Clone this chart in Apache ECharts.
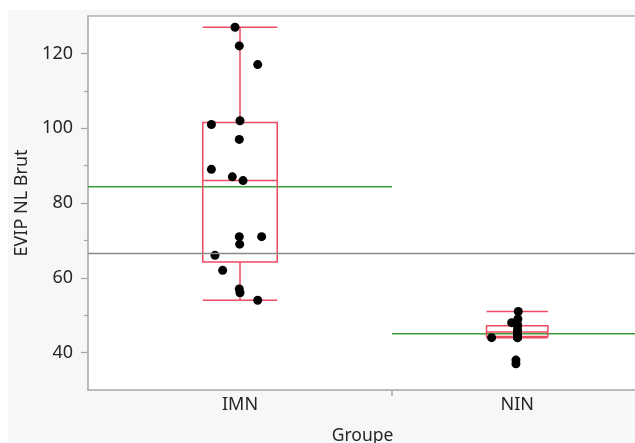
<!DOCTYPE html>
<html><head><meta charset="utf-8">
<script src="https://cdn.jsdelivr.net/npm/echarts@6/dist/echarts.min.js"></script>
<style>html,body{margin:0;padding:0;background:#fff}#c{width:635px;height:443px}</style>
</head><body><div id="c"></div>
<script>
// ---- data ----
const groups = ['IMN', 'NIN'];
const imnValues = [127, 122, 117, 102, 101, 97, 89, 87, 86, 71, 71, 69, 66, 62, 57, 56, 54];
const imnJitter = [-0.28, -0.04, 0.99, 0, -1.6, -0.04, -1.6, -0.43, 0.17, -0.04, 1.21, -0.02, -1.4, -0.97, -0.04, 0, 0.99];
const ninValues = [51, 49, 48, 47.5, 47, 46, 45.5, 45, 44.5, 44, 44, 44, 38, 37];
const ninJitter = [0.06, 0.04, -0.31, 0.02, 0.02, 0.02, 0.02, 0.02, 0.02, 0.02, 0.02, -1.43, -0.07, -0.07];
// box stats: [min whisker, Q1, median, Q3, max whisker]
const imnBox = [54, 64.25, 86, 101.5, 127];
const ninBox = [44, 44.3, 45.5, 47.2, 51];
const yTicks = [40, 60, 80, 100, 120];
const yMinorTicks = [50, 70, 90, 110];

// ---- derived ----
const valuesByGroup = [imnValues, ninValues];
const jitterByGroup = [imnJitter, ninJitter];
const boxByGroup = [imnBox, ninBox];
const counts = valuesByGroup.map(v => v.length);
const starts = [], ends = [], centers = [];
let acc = 0;
counts.forEach(n => { starts.push(acc); centers.push(acc + n / 2); acc += n; ends.push(acc); });
const mean = a => a.reduce((s, v) => s + v, 0) / a.length;
const allValues = [].concat(...valuesByGroup);
const grandMean = mean(allValues);

const RED = '#ee4b62', GREEN = '#3a9f3a', GRAY = '#8a8a8a', AXIS = '#a6a6a6', TXT = '#262626';
const FONT = 'Noto Sans';
const BOX_W_PER_OBS = 0.1225;

const scatterData = [];
valuesByGroup.forEach((vals, g) => vals.forEach((v, i) => scatterData.push([centers[g] + jitterByGroup[g][i], v])));
const boxData = boxByGroup.map((b, g) => [centers[g], counts[g] * BOX_W_PER_OBS, ...b]);
const meanData = valuesByGroup.map((vals, g) => [starts[g], ends[g], mean(vals)]);

const xMax = 30.7;

const chart = echarts.init(document.getElementById('c'), null, {renderer: 'canvas'});
chart.setOption({
  animation: false,
  backgroundColor: '#fff',
  textStyle: {fontFamily: FONT},
  graphic: [{type: 'rect', left: 8, top: 10, z: -100, shape: {width: 640, height: 440}, style: {fill: '#f7f7f7'}}],
  grid: {left: 88, top: 16, right: -2, bottom: 53, show: true, backgroundColor: '#fff', borderWidth: 0, containLabel: false, outerBoundsMode: 'none'},
  xAxis: [{
    type: 'value', min: 0, max: xMax,
    splitLine: {show: false},
    axisLine: {show: true, onZero: false, lineStyle: {color: AXIS, width: 1.5}},
    axisTick: {show: true, customValues: [ends[0]], length: 6, lineStyle: {color: AXIS, width: 1.5}},
    axisLabel: {customValues: centers, formatter: v => groups[centers.indexOf(v)] || '', fontSize: 18, color: TXT, margin: 6, fontFamily: FONT},
    name: 'Groupe', nameLocation: 'middle', nameGap: 37, nameTextStyle: {fontSize: 17.5, color: TXT, fontFamily: FONT}
  }, {
    type: 'value', min: 0, max: xMax, position: 'top',
    splitLine: {show: false},
    axisLine: {show: true, onZero: false, lineStyle: {color: '#b4b4b4', width: 1.5}},
    axisTick: {show: false}, axisLabel: {show: false}
  }],
  yAxis: [{
    type: 'value', min: 30, max: 130,
    splitLine: {show: false},
    axisLine: {show: true, lineStyle: {color: AXIS, width: 1.5}},
    axisTick: {show: true, customValues: yTicks, length: 7, lineStyle: {color: AXIS, width: 1.2}},
    axisLabel: {customValues: yTicks, fontSize: 18, color: TXT, margin: 15, fontFamily: FONT},
    name: 'EVIP NL Brut', nameLocation: 'middle', nameGap: 55, nameRotate: 90,
    nameTextStyle: {fontSize: 18, color: TXT, fontFamily: FONT}
  }, {
    type: 'value', min: 30, max: 130, position: 'left', offset: 0,
    splitLine: {show: false},
    axisLine: {show: false},
    axisTick: {show: true, customValues: yMinorTicks, length: 4, lineStyle: {color: AXIS, width: 1.2}},
    axisLabel: {show: false}
  }],
  series: [{
    type: 'custom', name: 'means', z: 2,
    data: meanData,
    encode: {x: [0, 1], y: 2},
    renderItem: (p, api) => {
      const a = api.coord([api.value(0), api.value(2)]);
      const b = api.coord([api.value(1), api.value(2)]);
      return {type: 'line', shape: {x1: a[0], y1: a[1], x2: b[0], y2: b[1]}, style: {stroke: GREEN, lineWidth: 1.5}};
    }
  }, {
    type: 'custom', name: 'boxes', z: 3,
    data: boxData,
    encode: {x: 0, y: [2, 3, 4, 5, 6]},
    renderItem: (p, api) => {
      const cx = api.value(0), hw = api.value(1);
      const mn = api.value(2), q1 = api.value(3), md = api.value(4), q3 = api.value(5), mx = api.value(6);
      const L = api.coord([cx - hw, 0])[0], R = api.coord([cx + hw, 0])[0], C = api.coord([cx, 0])[0];
      const y = v => api.coord([cx, v])[1];
      const st = {stroke: RED, lineWidth: 1.5, fill: null};
      const ln = (x1, y1, x2, y2) => ({type: 'line', shape: {x1, y1, x2, y2}, style: st});
      return {type: 'group', children: [
        {type: 'rect', shape: {x: L, y: y(q3), width: R - L, height: y(q1) - y(q3)}, style: st},
        ln(L, y(md), R, y(md)),
        ln(C, y(q3), C, y(mx)),
        ln(C, y(q1), C, y(mn)),
        ln(L, y(mx), R, y(mx)),
        ln(L, y(mn), R, y(mn))
      ]};
    }
  }, {
    type: 'scatter', name: 'points', z: 4,
    data: scatterData,
    symbol: 'circle', symbolSize: 9,
    itemStyle: {color: '#000', opacity: 1},
    markLine: {
      silent: true, symbol: 'none', label: {show: false},
      lineStyle: {color: GRAY, type: 'solid', width: 1.3},
      data: [{yAxis: grandMean}]
    }
  }]
});
</script></body></html>
